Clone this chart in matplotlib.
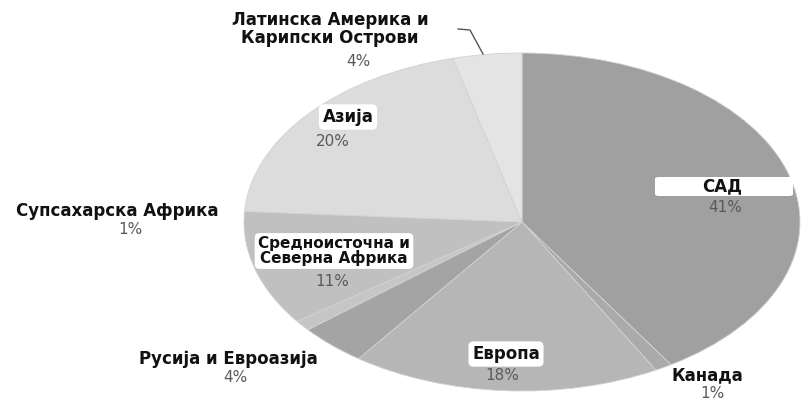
import matplotlib
matplotlib.use("Agg")
import matplotlib.pyplot as plt

# data (clockwise from 12 o'clock)
regions = ["САД", "Канада", "Европа", "Русија и Евроазија", "Супсахарска Африка",
           "Средноисточна и\nСеверна Африка", "Азија", "Латинска Америка и\nКарипски Острови"]
shares = [41, 1, 18, 4, 1, 11, 20, 4]
pct_labels = [f"{v}%" for v in shares]
colors = ["#a0a0a0", "#aaaaaa", "#b6b6b6", "#a4a4a4", "#c6c6c6", "#c0c0c0", "#dcdcdc", "#e4e4e4"]

W, H = 801, 400
fig = plt.figure(figsize=(W / 100, H / 100), dpi=100)
ax = fig.add_axes([0, 0, 1, 1])

ax.pie(shares, startangle=90, counterclock=False, colors=colors,
       wedgeprops=dict(linewidth=0.6, edgecolor="#d2d2d2"))
ax.set_aspect("auto")

# ellipse in pixels: centre, radii
cx, cy, rx, ry = 522, 222, 278, 169
ax.set_xlim(-cx / rx, (W - cx) / rx)
ax.set_ylim((cy - H) / ry, cy / ry)
ax.axis("off")


def px(x, y):
    return x / W, 1 - y / H


boxed = dict(boxstyle="round,pad=0.22,rounding_size=0.3", fc="white", ec="none")
name_kw = dict(fontsize=12, fontweight="bold", color="#111111", ha="center", va="center",
               linespacing=0.95, transform=fig.transFigure, zorder=5)
pct_kw = dict(fontsize=11, color="#5a5a5a", ha="center", va="center",
              transform=fig.transFigure, zorder=5)

# (name pos, pct pos, boxed, size)
pos = [((722, 186), (725, 208), False, 12),
       ((707, 375), (712, 393), False, 12),
       ((506, 354), (502, 376), True, 12),
       ((228, 359), (235, 378), False, 12),
       ((117, 211), (130, 229), False, 12),
       ((334, 251), (332, 282), True, 11),
       ((348, 117), (333, 141), True, 12),
       ((330, 29), (358, 62), False, 12)]

for name, pct, (npos, ppos, b, fs) in zip(regions, pct_labels, pos):
    kw = dict(name_kw, fontsize=fs)
    if fs < 12:
        kw["linespacing"] = 0.85
    t = fig.text(*px(*npos), name, **kw)
    if b:
        t.set_bbox(boxed)
    fig.text(*px(*ppos), pct, **pct_kw)

# САД box is wider than its text
fig.patches.append(matplotlib.patches.FancyBboxPatch(
    px(655, 196), 138 / W, 19 / H, boxstyle="round,pad=0,rounding_size=0.005",
    fc="white", ec="none", transform=fig.transFigure, zorder=2))

# leader line for Латинска Америка
lx = [458, 470, 483]
ly = [29, 30, 54]
fig.add_artist(matplotlib.lines.Line2D([x / W for x in lx], [1 - y / H for y in ly],
                                       color="#555555", lw=1, transform=fig.transFigure))

fig.savefig("out.png", dpi=100)
